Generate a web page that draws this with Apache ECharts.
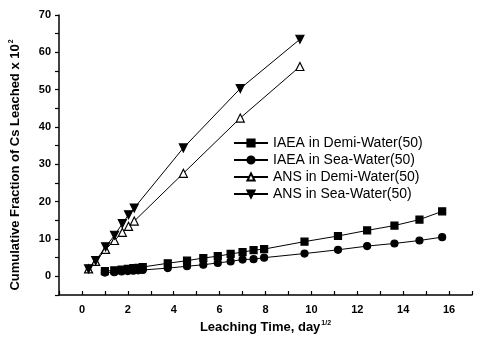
<!DOCTYPE html>
<html><head><meta charset="utf-8">
<script src="https://cdn.jsdelivr.net/npm/echarts@6/dist/echarts.min.js"></script>
<style>html,body{margin:0;padding:0;background:#fff}#c{width:477px;height:343px}</style>
</head><body><div id="c"></div>
<script>
const iaeaX = [1.0, 1.41, 1.73, 2.0, 2.24, 2.45, 2.65, 3.74, 4.58, 5.29, 5.92, 6.48, 7.0, 7.48, 7.94, 9.7, 11.16, 12.43, 13.62, 14.71, 15.7];
const iaeaDemi = [1.4, 1.6, 1.8, 2.0, 2.2, 2.3, 2.5, 3.5, 4.2, 4.9, 5.4, 6.0, 6.5, 7.0, 7.3, 9.3, 10.8, 12.3, 13.6, 15.2, 17.4];
const iaeaSea = [1.0, 1.1, 1.3, 1.4, 1.5, 1.6, 1.7, 2.2, 2.7, 3.1, 3.6, 4.0, 4.5, 4.6, 5.0, 6.1, 7.1, 8.1, 8.8, 9.6, 10.5];
const ansX = [0.29, 0.6, 1.03, 1.42, 1.76, 2.03, 2.28, 4.42, 6.9, 9.5];
const ansDemi = [2.0, 4.0, 7.2, 9.6, 11.8, 13.4, 14.8, 27.6, 42.4, 56.2];
const ansSea = [2.0, 4.2, 7.9, 11.0, 14.1, 16.5, 18.3, 34.4, 50.3, 63.5];
const seriesNames = ['IAEA in Demi-Water(50)', 'IAEA in Sea-Water(50)', 'ANS in Demi-Water(50)', 'ANS in Sea-Water(50)'];
const xTicks = [0, 2, 4, 6, 8, 10, 12, 14, 16];
const yTicks = [0, 10, 20, 30, 40, 50, 60, 70];

const zip = (xs, ys) => xs.map((x, i) => [x, ys[i]]);
const font = 'Liberation Sans, Arial, sans-serif';
const chart = echarts.init(document.getElementById('c'), null, {renderer: 'canvas'});
function mk(name, xs, ys, symbol, size, fill, rot) {
  return {
    name, type: 'line', data: zip(xs, ys), symbol, symbolSize: size, symbolRotate: rot || 0,
    lineStyle: {color: '#000', width: 1}, itemStyle: {color: fill, borderColor: '#000', borderWidth: 1.2},
    emphasis: {disabled: true}, animation: false, z: 3
  };
}
chart.setOption({
  animation: false,
  grid: {left: 58, right: 5, top: 15, bottom: 48},
  legend: {
    left: 233, top: 136, orient: 'vertical', itemWidth: 34, itemHeight: 9, itemGap: 3, padding: 0,
    data: seriesNames,
    textStyle: {fontFamily: font, fontSize: 14, color: '#000', lineHeight: 14, padding: [0, 0, 0, 0]}
  },
  xAxis: {
    type: 'value', min: -1, max: 17, interval: 1,
    axisLine: {onZero: false, lineStyle: {color: '#000', width: 1.5}},
    axisTick: {inside: true, length: 4, lineStyle: {color: '#000', width: 1.2}},
    splitLine: {show: false},
    axisLabel: {
      margin: 9, fontFamily: font, fontSize: 11, fontWeight: 'bold', color: '#000',
      formatter: v => xTicks.includes(v) ? String(v) : ''
    },
    name: '{a|Leaching Time, day}{s|1/2}', nameLocation: 'middle', nameGap: 24,
    nameTextStyle: {rich: {
      a: {fontFamily: font, fontSize: 13, fontWeight: 'bold', color: '#000'},
      s: {fontFamily: font, fontSize: 7, fontWeight: 'bold', color: '#000', verticalAlign: 'top', padding: [0, 0, 8, 1]}
    }}
  },
  yAxis: {
    type: 'value', min: -5, max: 70, interval: 5,
    axisLine: {onZero: false, lineStyle: {color: '#000', width: 1.5}},
    axisTick: {inside: false, length: 4, lineStyle: {color: '#000', width: 1.2}},
    splitLine: {show: false},
    axisLabel: {
      margin: 8, fontFamily: font, fontSize: 11, fontWeight: 'bold', color: '#000',
      formatter: v => yTicks.includes(v) ? String(v) : ''
    },
    name: '{a|Cumulative Fraction of Cs Leached x 10}{s|2}', nameLocation: 'middle', nameGap: 36,
    nameTextStyle: {padding: [0, 20, 0, 0], rich: {
      a: {fontFamily: font, fontSize: 13, fontWeight: 'bold', color: '#000'},
      s: {fontFamily: font, fontSize: 7, fontWeight: 'bold', color: '#000', verticalAlign: 'top', padding: [0, 0, 8, 1]}
    }}
  },
  series: [
    mk(seriesNames[0], iaeaX, iaeaDemi, 'rect', 7, '#000'),
    mk(seriesNames[1], iaeaX, iaeaSea, 'circle', 7, '#000'),
    mk(seriesNames[2], ansX, ansDemi, 'triangle', 8, '#fff'),
    mk(seriesNames[3], ansX, ansSea, 'triangle', 8, '#000', 180)
  ]
});
</script></body></html>
